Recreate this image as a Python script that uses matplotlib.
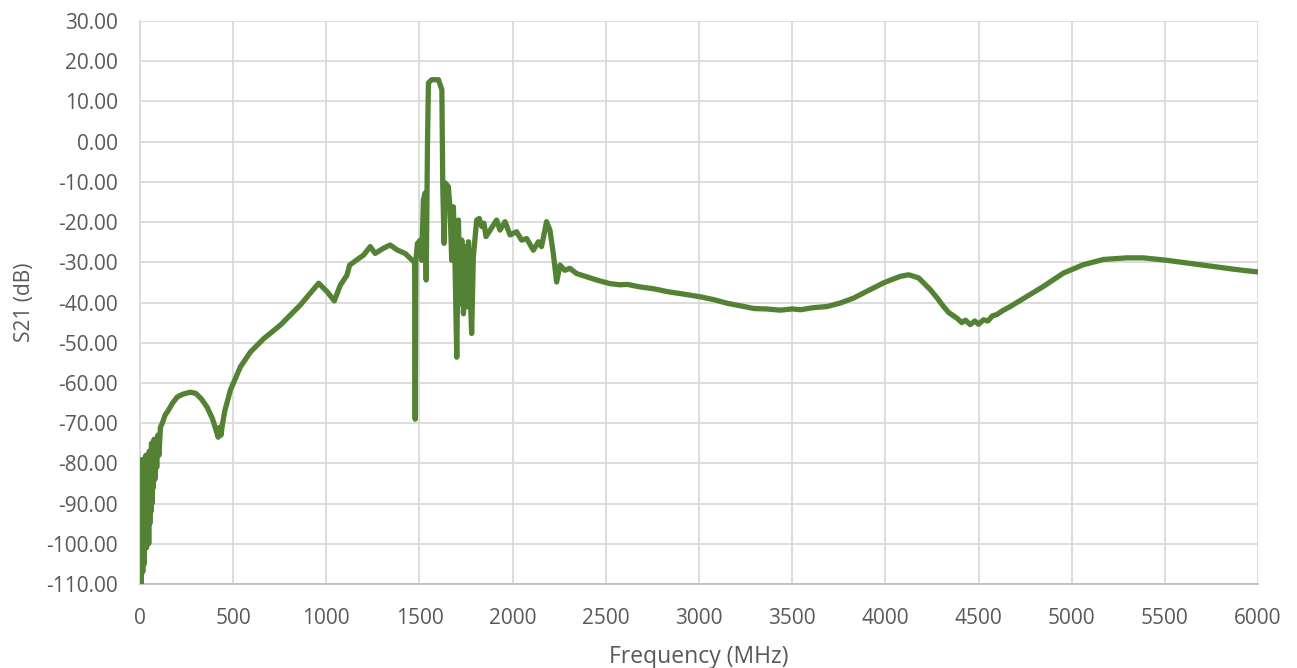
import matplotlib
matplotlib.use("Agg")
import matplotlib.pyplot as plt
from matplotlib.ticker import FormatStrFormatter

# S21 trace (MHz, dB)
freq_mhz = [
    1, 3, 5, 7, 9, 11, 13, 15, 17, 19, 21, 23, 26, 29, 32, 35, 38, 41, 44, 47,
    50, 53, 56, 59, 62, 65, 68, 72, 76, 80, 85, 90, 96, 102, 110, 120, 135, 150,
    175, 200, 230, 270, 300, 330, 360, 390, 410, 420, 428, 435, 442, 455, 486,
    539, 593, 664, 754, 861, 914, 959, 1004, 1043, 1075, 1111, 1125, 1164, 1200,
    1236, 1262, 1307, 1343, 1379, 1423, 1450, 1468, 1474, 1477, 1480, 1489, 1504,
    1512, 1521, 1530, 1536, 1543, 1548, 1566, 1602, 1620, 1625, 1632, 1639, 1655,
    1664, 1673, 1682, 1691, 1700, 1709, 1718, 1727, 1736, 1745, 1754, 1763, 1771,
    1780, 1789, 1807, 1821, 1834, 1846, 1857, 1879, 1914, 1932, 1959, 1986, 2021,
    2048, 2075, 2111, 2138, 2155, 2182, 2200, 2218, 2236, 2254, 2280, 2307, 2343,
    2396, 2450, 2521, 2575, 2616, 2680, 2759, 2830, 2902, 3009, 3080, 3152, 3220,
    3295, 3360, 3437, 3500, 3545, 3610, 3687, 3760, 3830, 3884, 3940, 3991, 4040,
    4080, 4125, 4179, 4241, 4280, 4312, 4340, 4384, 4410, 4430, 4455, 4480, 4500,
    4527, 4550, 4575, 4598, 4630, 4670, 4759, 4848, 4955, 5062, 5170, 5295, 5384,
    5509, 5688, 5866, 5938, 6000,
]
s21_db = [
    -88, -100, -82, -110, -85, -103, -79, -107, -83, -99, -80, -105, -82, -98,
    -78, -101, -84, -96, -79, -100, -77, -95, -81, -92, -75, -90, -79, -86, -74,
    -84, -76, -81, -73, -78, -71, -70, -68, -67, -65, -63.5, -62.8, -62.3, -62.6,
    -64, -66, -69, -72, -73.5, -71, -73, -70.5, -67, -61.7, -56, -52.3, -49,
    -45.6, -40.6, -37.7, -35.2, -37.3, -39.6, -35.7, -33.2, -30.7, -29.4, -28.2,
    -26.1, -27.8, -26.5, -25.7, -26.9, -27.8, -29, -29.8, -30, -69, -30, -25.3,
    -24.5, -29.5, -14.5, -12.8, -34.4, -0.4, 14.6, 15.4, 15.4, 12.9, -11.2, -25.3,
    -10.3, -11.2, -17, -29.5, -16.2, -31.1, -53.6, -19.5, -40.3, -24.5, -42.8,
    -26.1, -41.1, -24.9, -36.1, -47.7, -28.6, -19.5, -19.1, -21.1, -20.3, -23.6,
    -22, -19.5, -22, -19.9, -23.2, -22.4, -24.5, -24.1, -27, -24.9, -26.1, -19.9,
    -22, -27.8, -34.9, -30.7, -32, -31.5, -32.8, -33.6, -34.4, -35.3, -35.6,
    -35.5, -36.1, -36.6, -37.3, -37.8, -38.6, -39.3, -40.2, -40.8, -41.5, -41.6,
    -41.9, -41.6, -41.8, -41.3, -41, -40.1, -38.9, -37.6, -36.3, -35.1, -34.2,
    -33.5, -33.1, -33.9, -36.8, -39, -41, -42.5, -43.9, -45, -44.4, -45.5, -44.6,
    -45.4, -44.3, -44.6, -43.3, -43, -42, -41, -38.5, -36, -32.7, -30.6, -29.3,
    -28.9, -28.9, -29.5, -30.6, -31.7, -32.1, -32.4,
]

x_ticks = list(range(0, 6001, 500))
y_ticks = list(range(-110, 31, 10))

fig = plt.figure(figsize=(12.97, 6.68), dpi=100)
ax = fig.add_axes([0.1079, 0.1257, 0.8621, 0.8429])

ax.plot(freq_mhz, s21_db, color="#548235", lw=3.8, solid_joinstyle="round",
        solid_capstyle="round", zorder=3)

ax.set_xlim(0, 6000)
ax.set_ylim(-110, 30)
ax.set_xticks(x_ticks)
ax.set_yticks(y_ticks)
ax.yaxis.set_major_formatter(FormatStrFormatter("%.2f"))
ax.grid(True, color="#d9d9d9", lw=1.3, zorder=0)
ax.tick_params(length=0, labelsize=15, colors="#595959")
ax.tick_params(axis="y", pad=16)
ax.tick_params(axis="x", pad=17)

for side in ["top", "right"]:
    ax.spines[side].set_visible(False)
ax.spines["left"].set_color("#d9d9d9")
ax.spines["left"].set_linewidth(1.3)
ax.spines["bottom"].set_color("#bfbfbf")
ax.spines["bottom"].set_linewidth(1.3)

for lab in ax.get_xticklabels() + ax.get_yticklabels():
    lab.set_family("Open Sans")

ax.set_xlabel("Frequency (MHz)", fontsize=16.5, color="#595959", family="Open Sans", labelpad=12)
ax.set_ylabel("S21 (dB)", fontsize=15, color="#595959", family="Open Sans", labelpad=8)

fig.savefig("out.png", dpi=100)
